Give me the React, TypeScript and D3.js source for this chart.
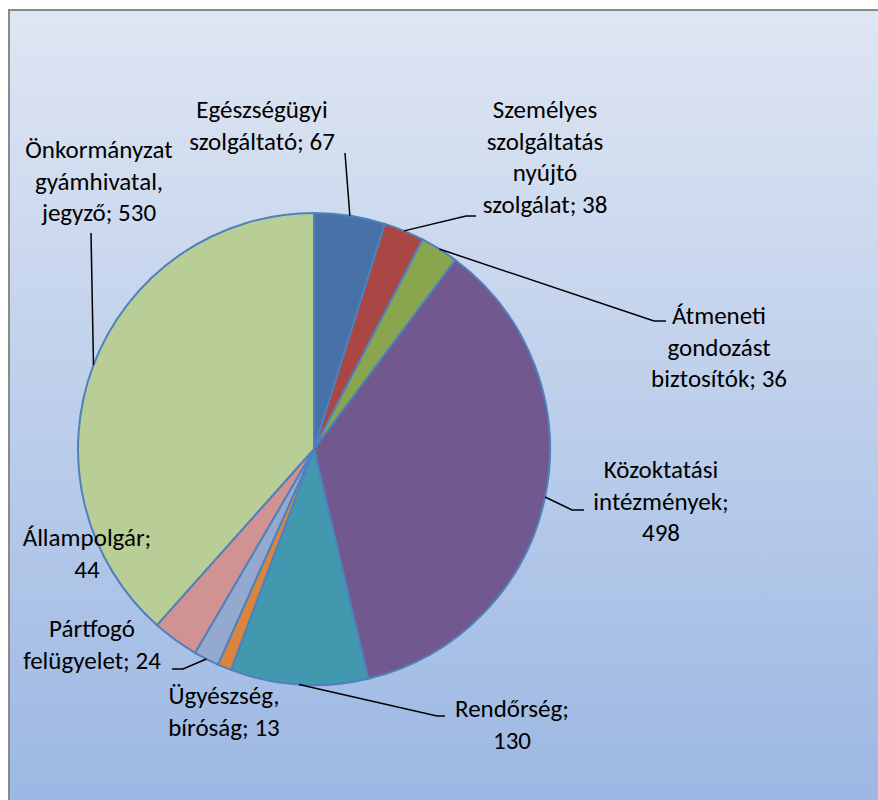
import React from "react";
import * as d3 from "d3";

const categories = [
  "Egészségügyi szolgáltató",
  "Személyes szolgáltatás nyújtó szolgálat",
  "Átmeneti gondozást biztosítók",
  "Közoktatási intézmények",
  "Rendőrség",
  "Ügyészség, bíróság",
  "Pártfogó felügyelet",
  "Állampolgár",
  "Önkormányzat gyámhivatal, jegyző",
];
const values = [67, 38, 36, 498, 130, 13, 24, 44, 530];
const labelLines = [
  ["Egészségügyi", "szolgáltató; 67"],
  ["Személyes", "szolgáltatás", "nyújtó", "szolgálat; 38"],
  ["Átmeneti", "gondozást", "biztosítók; 36"],
  ["Közoktatási", "intézmények;", "498"],
  ["Rendőrség;", "130"],
  ["Ügyészség,", "bíróság; 13"],
  ["Pártfogó", "felügyelet; 24"],
  ["Állampolgár;", "44"],
  ["Önkormányzat", "gyámhivatal,", "jegyző; 530"],
];
const colors = [
  "#4672a8", "#aa4643", "#89a54e", "#71588f", "#4198af",
  "#db843d", "#93a9cf", "#d19392", "#b9cd96",
];

// label layout: centre x, first baseline, leader knee + end (null = no leader)
const layout = [
  { x: 262, y: 118, knee: null, end: [345, 153] },
  { x: 545, y: 118, knee: [466, 216], end: [476, 216] },
  { x: 719, y: 324, knee: [654, 321], end: [666, 321] },
  { x: 661, y: 478, knee: [572, 510], end: [584, 510] },
  { x: 512, y: 717, knee: [437, 716], end: [445, 716] },
  { x: 224, y: 704, knee: null, end: null },
  { x: 92, y: 637, knee: [183, 669], end: [172, 669] },
  { x: 87, y: 546, knee: null, end: null },
  { x: 99, y: 158, knee: null, end: [91, 233] },
];

const W = 878;
const H = 800;
const cx = 314;
const cy = 449;
const r = 236;
const lineH = 31.5;

export default function App() {
  const pie = d3.pie<number>().sort(null).value((d) => d);
  const arcs = pie(values);
  const arc = d3.arc<d3.PieArcDatum<number>>().innerRadius(0).outerRadius(r);

  return (
    <svg width={W} height={H} style={{ display: "block", position: "absolute", left: 0, top: 0 }}>
      <defs>
        <linearGradient id="bg" x1="0" y1="0" x2="0" y2="1">
          <stop offset="0" stopColor="#dfe6f3" />
          <stop offset="1" stopColor="#9bb7e3" />
        </linearGradient>
      </defs>
      <rect x={9} y={10} width={W} height={H} fill="url(#bg)" stroke="#8a8a8a" strokeWidth={2} />
      <g transform={`translate(${cx},${cy})`}>
        {arcs.map((a, i) => (
          <path key={categories[i]} d={arc(a) || ""} fill={colors[i]} stroke="#4f81bd" strokeWidth={2} strokeLinejoin="round" />
        ))}
      </g>
      {arcs.map((a, i) => {
        const L = layout[i];
        if (!L.end) return null;
        const mid = (a.startAngle + a.endAngle) / 2;
        const sx = cx + r * Math.sin(mid);
        const sy = cy - r * Math.cos(mid);
        const pts = [[sx, sy]];
        if (L.knee) pts.push(L.knee);
        pts.push(L.end);
        return (
          <path key={"l" + i} d={d3.line()(pts as [number, number][]) || ""} fill="none" stroke="#000" strokeWidth={1.5} />
        );
      })}
      {labelLines.map((lines, i) => (
        <text key={"t" + i} x={layout[i].x} y={layout[i].y} textAnchor="middle" fontFamily="Carlito, Lato, sans-serif" fontSize={25} fill="#000">
          {lines.map((s, j) => (
            <tspan key={j} x={layout[i].x} y={layout[i].y + j * lineH}>{s}</tspan>
          ))}
        </text>
      ))}
    </svg>
  );
}
